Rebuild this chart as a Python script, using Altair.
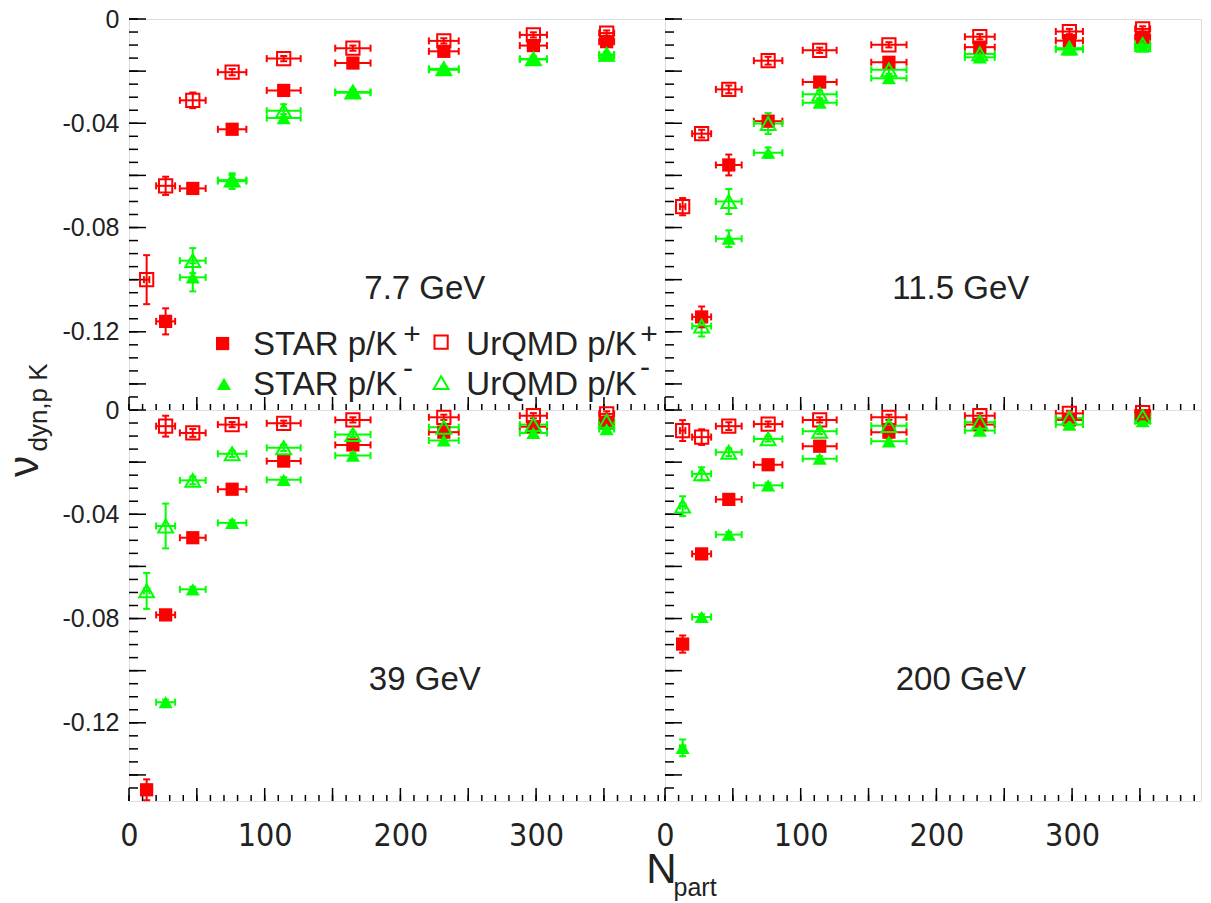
import altair as alt
import pandas as pd
import numpy as np

# ---------------- data ----------------
NPART = [13, 27, 47, 76, 114, 165, 232, 298, 352]
XERR = [2, 7, 9.5, 10.5, 12.5, 13, 11, 10, 5.5]
ENERGIES = ["7.7 GeV", "11.5 GeV", "39 GeV", "200 GeV"]
SERIES = ["STAR p/K+", "STAR p/K-", "UrQMD p/K+", "UrQMD p/K-"]

# 7.7 GeV
STAR_PKP_77 = [None, -0.116, -0.065, -0.0423, -0.0274, -0.0169, -0.0124, -0.0102, -0.0087]
STAR_PKP_77_ERR = [None, 0.005, 0.0012, 0.001, 0.001, 0.001, 0.001, 0.001, 0.001]
STAR_PKM_77 = [None, None, -0.0991, -0.0622, -0.0380, -0.0283, -0.0195, -0.0155, -0.0140]
STAR_PKM_77_ERR = [None, None, 0.0054, 0.0030, 0.0015, 0.001, 0.001, 0.001, 0.001]
URQMD_PKP_77 = [-0.100, -0.064, -0.0312, -0.0204, -0.0152, -0.0112, -0.0084, -0.0061, -0.0054]
URQMD_PKP_77_ERR = [0.0094, 0.0035, 0.003, 0.0012, 0.001, 0.001, 0.001, 0.001, 0.001]
URQMD_PKM_77 = [None, None, -0.0927, -0.0618, -0.0352, -0.0280, -0.0191, -0.0153, -0.0136]
URQMD_PKM_77_ERR = [None, None, 0.0048, 0.002, 0.0025, 0.001, 0.001, 0.001, 0.001]

# 11.5 GeV
STAR_PKP_115 = [None, -0.1143, -0.056, -0.0392, -0.0242, -0.0166, -0.0108, -0.0083, -0.0070]
STAR_PKP_115_ERR = [None, 0.004, 0.004, 0.0015, 0.001, 0.001, 0.001, 0.001, 0.001]
STAR_PKM_115 = [None, None, -0.0843, -0.0513, -0.0321, -0.0227, -0.0147, -0.0117, -0.0106]
STAR_PKM_115_ERR = [None, None, 0.0032, 0.002, 0.001, 0.001, 0.001, 0.001, 0.001]
URQMD_PKP_115 = [-0.072, -0.044, -0.027, -0.016, -0.012, -0.0099, -0.0068, -0.0048, -0.0038]
URQMD_PKP_115_ERR = [0.0033, 0.0015, 0.0015, 0.0015, 0.001, 0.001, 0.001, 0.001, 0.001]
URQMD_PKM_115 = [None, -0.1178, -0.070, -0.0401, -0.0289, -0.0195, -0.0134, -0.0112, -0.0098]
URQMD_PKM_115_ERR = [None, 0.004, 0.0048, 0.004, 0.0015, 0.0015, 0.001, 0.001, 0.001]

# 39 GeV
STAR_PKP_39 = [-0.1457, -0.0786, -0.049, -0.0304, -0.0196, -0.0134, -0.0085, -0.0064, -0.0047]
STAR_PKP_39_ERR = [0.004, 0.0012, 0.001, 0.001, 0.001, 0.001, 0.001, 0.001, 0.001]
STAR_PKM_39 = [None, -0.1121, -0.0688, -0.0433, -0.0268, -0.0175, -0.0117, -0.0088, -0.0073]
STAR_PKM_39_ERR = [None, 0.001, 0.001, 0.001, 0.001, 0.001, 0.001, 0.001, 0.001]
URQMD_PKP_39 = [None, -0.0062, -0.0088, -0.0056, -0.0051, -0.0038, -0.0028, -0.0022, -0.0015]
URQMD_PKP_39_ERR = [None, 0.004, 0.0015, 0.001, 0.001, 0.001, 0.001, 0.001, 0.001]
URQMD_PKM_39 = [-0.0694, -0.0445, -0.027, -0.0168, -0.0145, -0.0094, -0.0066, -0.0056, -0.0043]
URQMD_PKM_39_ERR = [0.0069, 0.0086, 0.0015, 0.0012, 0.0012, 0.001, 0.001, 0.001, 0.001]

# 200 GeV
STAR_PKP_200 = [-0.0898, -0.0552, -0.0343, -0.0210, -0.0139, -0.0085, -0.0056, -0.0038, -0.0022]
STAR_PKP_200_ERR = [0.0033, 0.001, 0.001, 0.001, 0.001, 0.001, 0.001, 0.001, 0.001]
STAR_PKM_200 = [-0.1296, -0.0794, -0.0478, -0.0289, -0.0187, -0.0120, -0.0079, -0.0056, -0.0043]
STAR_PKM_200_ERR = [0.0032, 0.001, 0.001, 0.001, 0.001, 0.001, 0.001, 0.001, 0.001]
URQMD_PKP_200 = [-0.0079, -0.0104, -0.0062, -0.0054, -0.0038, -0.0028, -0.0022, -0.0013, -0.0010]
URQMD_PKP_200_ERR = [0.004, 0.003, 0.0015, 0.001, 0.001, 0.001, 0.001, 0.001, 0.001]
URQMD_PKM_200 = [-0.0369, -0.0245, -0.0162, -0.0111, -0.0082, -0.0060, -0.0047, -0.0031, -0.0025]
URQMD_PKM_200_ERR = [0.0038, 0.0025, 0.0015, 0.001, 0.001, 0.001, 0.001, 0.001, 0.001]

# axis tick values
Y_LABELS = [0, -0.04, -0.08, -0.12]
X_LABELS = [0, 100, 200, 300]
Y_TICKS_MAJOR = [0, -0.02, -0.04, -0.06, -0.08, -0.10, -0.12, -0.14]
Y_TICKS_MINOR = [round(-0.005 * i, 3) for i in range(0, 30)]
X_TICKS_MAJOR = [0, 50, 100, 150, 200, 250, 300, 350]
X_TICKS_MINOR = list(range(0, 400, 10))

# text placement (data coordinates)
ENERGY_X = 218
ENERGY_Y = -0.1035
LEG_TEXT = ["STAR p/K", "UrQMD p/K", "STAR p/K", "UrQMD p/K"]
LEG_SUP = ["+", "+", "-", "-"]
LEG_SYM_X = [69, 230, 70, 230]
LEG_SYM_Y = [-0.1245, -0.1240, -0.1400, -0.1395]
LEG_TEXT_X = [91.4, 248.6, 91.4, 248.6]
LEG_TEXT_Y = [-0.1289, -0.1289, -0.1442, -0.1442]
LEG_SUP_X = [208.5, 383.2, 205.6, 380.3]
LEG_SUP_Y = [-0.1212, -0.1212, -0.1343, -0.1338]

RED = "#ff0000"
GREEN = "#00ff00"
TXT = "#222222"
FONT = "Liberation Sans"
NARROW = "Liberation Sans Narrow, DejaVu Sans Condensed, Liberation Sans"

VALUES = {
    ("7.7 GeV", "STAR p/K+"): (STAR_PKP_77, STAR_PKP_77_ERR),
    ("7.7 GeV", "STAR p/K-"): (STAR_PKM_77, STAR_PKM_77_ERR),
    ("7.7 GeV", "UrQMD p/K+"): (URQMD_PKP_77, URQMD_PKP_77_ERR),
    ("7.7 GeV", "UrQMD p/K-"): (URQMD_PKM_77, URQMD_PKM_77_ERR),
    ("11.5 GeV", "STAR p/K+"): (STAR_PKP_115, STAR_PKP_115_ERR),
    ("11.5 GeV", "STAR p/K-"): (STAR_PKM_115, STAR_PKM_115_ERR),
    ("11.5 GeV", "UrQMD p/K+"): (URQMD_PKP_115, URQMD_PKP_115_ERR),
    ("11.5 GeV", "UrQMD p/K-"): (URQMD_PKM_115, URQMD_PKM_115_ERR),
    ("39 GeV", "STAR p/K+"): (STAR_PKP_39, STAR_PKP_39_ERR),
    ("39 GeV", "STAR p/K-"): (STAR_PKM_39, STAR_PKM_39_ERR),
    ("39 GeV", "UrQMD p/K+"): (URQMD_PKP_39, URQMD_PKP_39_ERR),
    ("39 GeV", "UrQMD p/K-"): (URQMD_PKM_39, URQMD_PKM_39_ERR),
    ("200 GeV", "STAR p/K+"): (STAR_PKP_200, STAR_PKP_200_ERR),
    ("200 GeV", "STAR p/K-"): (STAR_PKM_200, STAR_PKM_200_ERR),
    ("200 GeV", "UrQMD p/K+"): (URQMD_PKP_200, URQMD_PKP_200_ERR),
    ("200 GeV", "UrQMD p/K-"): (URQMD_PKM_200, URQMD_PKM_200_ERR),
}

rows = []
for (en, s), (vals, errs) in VALUES.items():
    for n, xe, v, e in zip(NPART, XERR, vals, errs):
        if v is None:
            continue
        rows.append(dict(energy=en, series=s, npart=n, v=v,
                         xlo=n - xe, xhi=n + xe, ylo=v - e, yhi=v + e))
df = pd.DataFrame(rows)

W, H = 536, 391
XS = alt.Scale(domain=[0, 395], nice=False, zero=False)
YS = alt.Scale(domain=[-0.15, 0], nice=False, zero=False)
COLS = alt.Scale(domain=SERIES, range=[RED, GREEN, RED, GREEN])
STYLE = {
    "STAR p/K+": ("square", True, RED, 175),
    "STAR p/K-": ("triangle-up", True, GREEN, 200),
    "UrQMD p/K+": ("square", False, RED, 175),
    "UrQMD p/K-": ("triangle-up", False, GREEN, 220),
}


def y_axis(title, tx, ty, size):
    return alt.Axis(values=Y_LABELS, ticks=False, domain=False, grid=False,
                    labelFontSize=25, labelFont=FONT, labelColor=TXT, labelPadding=10,
                    labelFlush=False, labelOverlap=False,
                    labelExpr="datum.value == 0 ? '0' : replace(format(datum.value, '.2f'), '\u2212', '-')",
                    title=title, titleFont=FONT, titleFontSize=size, titleFontWeight="normal",
                    titleColor=TXT, titleAngle=270, titleX=tx, titleY=ty,
                    titleAlign="center", titleBaseline="alphabetic")


def x_axis(title, tx, ty, size, align):
    return alt.Axis(values=X_LABELS, ticks=False, domain=False, grid=False,
                    labelFontSize=32, labelFont=NARROW, labelColor=TXT, labelPadding=19,
                    labelFlush=False, labelOverlap=False,
                    title=title, titleFont=FONT, titleFontSize=size, titleFontWeight="normal",
                    titleColor=TXT, titleX=tx, titleY=ty, titleAlign=align,
                    titleBaseline="alphabetic")


def panel(energy, col, row):
    d = df[df.energy == energy]
    if col == 0:
        ya = y_axis("\u03bd", -92, 447, 42) if row == 0 else y_axis("dyn,p K", -83, -3, 26)
    else:
        ya = None
    if row == 1:
        xa = x_axis("N", 532, 81, 42, "center") if col == 0 else x_axis("part", 8, 94, 25, "left")
    else:
        xa = None

    def X(f):
        return alt.X(f, type="quantitative", scale=XS, axis=xa)

    def Y(f):
        return alt.Y(f, type="quantitative", scale=YS, axis=ya)

    layers = []
    # inward ticks
    layers.append(alt.Chart(pd.DataFrame({"t": Y_TICKS_MINOR})).mark_rule(color="black", strokeWidth=1.5)
                  .encode(y=Y("t"), x=alt.value(0), x2=alt.value(9)))
    layers.append(alt.Chart(pd.DataFrame({"t": Y_TICKS_MAJOR})).mark_rule(color="black", strokeWidth=1.5)
                  .encode(y=Y("t"), x=alt.value(0), x2=alt.value(17)))
    layers.append(alt.Chart(pd.DataFrame({"t": X_TICKS_MINOR})).mark_rule(color="black", strokeWidth=1.5)
                  .encode(x=X("t"), y=alt.value(H), y2=alt.value(H - 6)))
    layers.append(alt.Chart(pd.DataFrame({"t": X_TICKS_MAJOR})).mark_rule(color="black", strokeWidth=1.5)
                  .encode(x=X("t"), y=alt.value(H), y2=alt.value(H - 13)))
    color = alt.Color("series:N", scale=COLS, legend=None)
    base = alt.Chart(d)
    layers.append(base.mark_rule(strokeWidth=2).encode(x=X("xlo"), x2="xhi", y=Y("v"), color=color))
    layers.append(base.mark_rule(strokeWidth=2).encode(x=X("npart"), y=Y("ylo"), y2="yhi", color=color))
    for f in ["xlo", "xhi"]:
        layers.append(base.mark_tick(orient="vertical", size=7, thickness=2, opacity=1)
                      .encode(x=X(f), y=Y("v"), color=color))
    for f in ["ylo", "yhi"]:
        layers.append(base.mark_tick(orient="horizontal", size=7, thickness=2, opacity=1)
                      .encode(x=X("npart"), y=Y(f), color=color))
    for s in SERIES:
        shape, filled, c, size = STYLE[s]
        layers.append(alt.Chart(d[d.series == s])
                      .mark_point(shape=shape, filled=filled, color=c, size=size,
                                  strokeWidth=2, opacity=1)
                      .encode(x=X("npart"), y=Y("v")))
    layers.append(alt.Chart(pd.DataFrame({"x": [ENERGY_X], "y": [ENERGY_Y], "t": [energy]}))
                  .mark_text(fontSize=33, font=FONT, color=TXT, align="center", baseline="middle")
                  .encode(x=X("x"), y=Y("y"), text="t:N"))
    if col == 0 and row == 0:
        for i, s in enumerate(SERIES):
            k = [0, 2, 1, 3][i]  # legend slot for this series
            shape, filled, c, size = STYLE[s]
            layers.append(alt.Chart(pd.DataFrame({"x": [LEG_SYM_X[k]], "y": [LEG_SYM_Y[k]]}))
                          .mark_point(shape=shape, filled=filled, color=c, size=size,
                                      strokeWidth=2, opacity=1)
                          .encode(x=X("x"), y=Y("y")))
        leg = pd.DataFrame({"x": LEG_TEXT_X, "y": LEG_TEXT_Y, "t": LEG_TEXT})
        layers.append(alt.Chart(leg).mark_text(fontSize=33, font=FONT, color=TXT, align="left",
                                               baseline="alphabetic")
                      .encode(x=X("x"), y=Y("y"), text="t:N"))
        sup = pd.DataFrame({"x": LEG_SUP_X, "y": LEG_SUP_Y, "t": LEG_SUP})
        layers.append(alt.Chart(sup).mark_text(fontSize=30, font=FONT, color=TXT, align="center",
                                               baseline="middle")
                      .encode(x=X("x"), y=Y("y"), text="t:N"))
    return alt.layer(*layers).properties(width=W, height=H)


grid = alt.concat(
    panel("7.7 GeV", 0, 0), panel("11.5 GeV", 1, 0),
    panel("39 GeV", 0, 1), panel("200 GeV", 1, 1),
    columns=2, spacing=0, bounds="flush",
)

try:
    chart = grid.properties(
        padding={"left": -6, "top": -2, "right": 0, "bottom": 0}
    ).configure_view(stroke="black", strokeWidth=2).configure(background="white")
    chart.save("out.html", embed_options={"renderer": "svg", "actions": False})
except Exception:
    chart = grid.properties(
        padding={"left": 0, "top": 0, "right": 0, "bottom": 0}
    ).configure_view(stroke="black", strokeWidth=2).configure(background="white")
    chart.save("out.html", embed_options={"renderer": "svg", "actions": False})
